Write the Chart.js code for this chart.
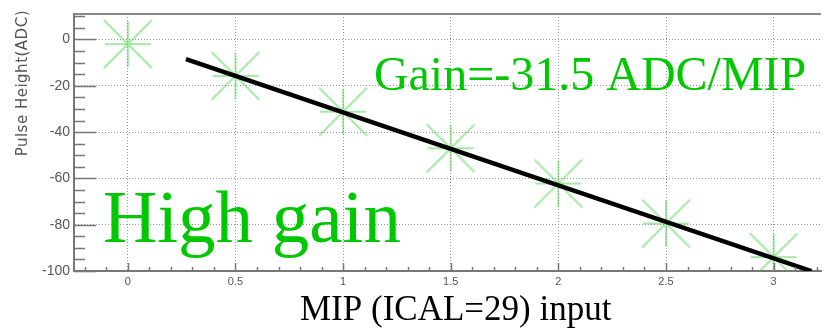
<!DOCTYPE html>
<html>
<head>
<meta charset="utf-8">
<script src="https://cdn.jsdelivr.net/npm/chart.js@4/dist/chart.umd.min.js"></script>
<style>
  html, body { margin:0; padding:0; background:#fff; }
  #wrap { width:827px; height:329px; }
</style>
</head>
<body>
<div id="wrap"><canvas id="gainChart" width="827" height="329"></canvas></div>
<script>
/* high gain calibration: pulse height vs injected MIP charge, with linear fit */

const mipInput    = [0, 0.5, 1, 1.5, 2, 2.5, 3];
const pulseHeight = [-2, -15.7, -31.2, -47, -62.2, -79.5, -94];

const gain      = -31.5;        // ADC per MIP, slope of the fit
const fitOffset = 0;            // ADC at zero input
const fitRange  = [0.27, 3.175];

const xRange = [-0.25, 3.22];
const yRange = [-100, 11];

const AXIS_GREY = '#777';
const GRID_GREY = '#999';
const LABEL_GREY = '#555';
const TEXT_GREEN = '#00c800';

// asterisk marker (ROOT style 3), drawn once and reused as pointStyle
function makeStar(){
  const c = document.createElement('canvas');
  c.width = 62; c.height = 62;
  const g = c.getContext('2d');
  g.filter = 'blur(0.7px)';
  g.strokeStyle = 'rgba(50,205,50,0.45)';
  g.lineWidth = 2;
  g.beginPath();
  g.moveTo(31-24, 31-24); g.lineTo(31+24, 31+24);
  g.moveTo(31+24, 31-24); g.lineTo(31-24, 31+24);
  g.moveTo(31-23, 31);    g.lineTo(31+23, 31);
  g.moveTo(31, 31-23);    g.lineTo(31, 31+23);
  g.stroke();
  return c;
}

const fitPoints = fitRange.map(x => ({ x, y: gain*x + fitOffset }));
const measPoints = mipInput.map((x,i) => ({ x, y: pulseHeight[i] }));

// inward major/minor tick marks, top frame line, titles and notes
const frameAndText = {
  id:'frameAndText',
  afterDatasetsDraw(chart){
    const ctx = chart.ctx;
    const a = chart.chartArea;
    const xs = chart.scales.x, ys = chart.scales.y;

    ctx.save();
    ctx.strokeStyle = AXIS_GREY;
    ctx.lineWidth = 1.5;
    ctx.beginPath();
    for(let v = -100; v <= yRange[1]; v += 5){
      const py = Math.round(ys.getPixelForValue(v)) + 0.5;
      const len = (v % 20 === 0) ? 22 : 11;
      ctx.moveTo(a.left, py); ctx.lineTo(a.left + len, py);
    }
    for(let k = -2; k <= 32; k++){
      const v = k/10;
      const px = Math.round(xs.getPixelForValue(v)) + 0.5;
      const len = (k % 5 === 0) ? 8 : 4;
      ctx.moveTo(px, a.bottom); ctx.lineTo(px, a.bottom - len);
    }
    ctx.stroke();

    ctx.strokeStyle = '#888';
    ctx.lineWidth = 2;
    ctx.beginPath();
    ctx.moveTo(a.left, a.top); ctx.lineTo(a.right, a.top);
    ctx.stroke();
    ctx.restore();
  },
  afterDraw(chart){
    const ctx = chart.ctx;
    const xs = chart.scales.x, ys = chart.scales.y;
    ctx.save();

    // y title, top-aligned like the ROOT default
    ctx.save();
    ctx.translate(23, 10);
    ctx.rotate(-Math.PI/2);
    ctx.font = '15px "DejaVu Sans", sans-serif';
    ctx.letterSpacing = '0.5px';
    ctx.fillStyle = LABEL_GREY;
    ctx.textAlign = 'right';
    ctx.textBaseline = 'middle';
    ctx.fillText('Pulse Height(ADC)', 0, 0);
    ctx.restore();

    // x title
    ctx.font = '35px "Liberation Serif", "Times New Roman", serif';
    ctx.fillStyle = '#000';
    ctx.textAlign = 'left';
    ctx.textBaseline = 'alphabetic';
    ctx.fillText('MIP (ICAL=29) input', 300, 320);

    // notes inside the frame
    ctx.fillStyle = TEXT_GREEN;
    ctx.font = '48px "Liberation Serif", "Times New Roman", serif';
    ctx.fillText('Gain=' + gain + ' ADC/MIP', xs.getPixelForValue(1.143), ys.getPixelForValue(-21.8));
    ctx.font = '75px "Liberation Serif", "Times New Roman", serif';
    ctx.fillText('High gain', xs.getPixelForValue(-0.115), ys.getPixelForValue(-87.5));

    ctx.restore();
  }
};

const chart = new Chart(document.getElementById('gainChart'), {
  type:'scatter',
  data:{
    datasets:[
      {
        data: fitPoints,
        showLine:true,
        borderColor:'#000',
        borderWidth:4.5,
        pointRadius:0,
        order:0
      },
      {
        data: measPoints,
        pointStyle: makeStar(),
        pointRadius:5,
        order:1
      }
    ]
  },
  options:{
    responsive:false,
    animation:false,
    devicePixelRatio:1,
    layout:{ padding:{ top:14, right:0, left:0, bottom:0 } },
    plugins:{ legend:{ display:false }, tooltip:{ enabled:false } },
    scales:{
      x:{
        type:'linear',
        min:xRange[0], max:xRange[1],
        afterFit(scale){ scale.height = 58; },
        ticks:{ stepSize:0.5, includeBounds:false, padding:4, color:LABEL_GREY,
                callback:v => String(v),
                font:{ family:'"Liberation Sans", sans-serif', size:11 } },
        grid:{ color:GRID_GREY, lineWidth:1, drawTicks:false },
        border:{ color:AXIS_GREY, width:2, dash:[1,2] }
      },
      y:{
        type:'linear',
        min:yRange[0], max:yRange[1],
        afterFit(scale){ scale.width = 74; },
        ticks:{ stepSize:20, includeBounds:false, padding:4, color:LABEL_GREY,
                callback:v => String(v),
                font:{ family:'"Liberation Sans", sans-serif', size:14 } },
        grid:{ color:GRID_GREY, lineWidth:1, drawTicks:false },
        border:{ color:AXIS_GREY, width:2, dash:[1,2] }
      }
    }
  },
  plugins:[frameAndText]
});
</script>
</body>
</html>
